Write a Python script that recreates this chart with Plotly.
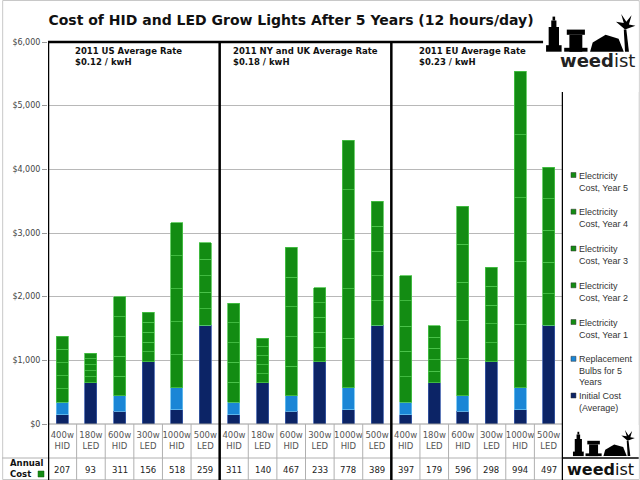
import plotly.graph_objects as go

# ---------------- data ----------------
regions = ["2011 US Average Rate", "2011 NY and UK Average Rate", "2011 EU Average Rate"]
rates = ["$0.12 / kwH", "$0.18 / kwH", "$0.23 / kwH"]
lamp_watts = ["400w", "180w", "600w", "300w", "1000w", "500w"]
lamp_types = ["HID", "LED", "HID", "LED", "HID", "LED"]
initial_cost = [145, 650, 200, 975, 220, 1550]
bulb_cost = [200, 0, 240, 0, 350, 0]
annual_us = [207, 93, 311, 156, 518, 259]
annual_ny = [311, 140, 467, 233, 778, 389]
annual_eu = [397, 179, 596, 298, 994, 497]
y_ticks = [0, 1000, 2000, 3000, 4000, 5000, 6000]
y_tick_text = ["$0", "$1,000", "$2,000", "$3,000", "$4,000", "$5,000", "$6,000"]

annual = annual_us + annual_ny + annual_eu
n = len(annual)
xs = list(range(n))
tick_text = [f"{w}<br>{t}" for _ in regions for w, t in zip(lamp_watts, lamp_types)]
init_all = initial_cost * 3
bulb_all = bulb_cost * 3

NAVY = "#0c2466"
BLUE = "#1a86d6"
GREEN = "#138c13"

# plot area in pixels
L, R, T, B = 46, 563, 42, 424
W, H = R - L, B - T
def px(x):
    return (x - L) / W
def py(y):
    return (B - y) / H

fig = go.Figure()
fig.add_bar(x=xs, y=init_all, name="Initial Cost (Average)", marker_color=NAVY,
            marker_line=dict(color="#3a5aa8", width=0.8))
fig.add_bar(x=xs, y=bulb_all, name="Replacement Bulbs for 5 Years", marker_color=BLUE,
            marker_line=dict(color="#6cc0f0", width=0.8))
for yr in range(1, 6):
    fig.add_bar(x=xs, y=annual, name=f"Electricity Cost, Year {yr}", marker_color=GREEN,
                marker_line=dict(color="#4cc44c", width=0.8))

fig.update_traces(width=0.42, showlegend=False)

shapes = []
annotations = []

# outer light border
shapes.append(dict(type="rect", xref="paper", yref="paper", x0=px(0.5), x1=px(639.5),
                   y0=py(0.5), y1=py(479.5), line=dict(color="#c8c8c8", width=1), layer="below"))

# x axis baseline and table line
shapes.append(dict(type="line", xref="paper", yref="paper", x0=0, x1=1, y0=0, y1=0,
                   line=dict(color="#9a9a9a", width=1)))
shapes.append(dict(type="line", xref="paper", yref="paper", x0=px(0), x1=1, y0=py(458), y1=py(458),
                   line=dict(color="#b0b0b0", width=1)))
# table separators (between categories)
for i in range(n + 1):
    xb = i - 0.5
    if i % 6 == 0:
        continue
    shapes.append(dict(type="line", xref="x", yref="paper", x0=xb, x1=xb, y0=py(424), y1=py(480),
                       line=dict(color="#b0b0b0", width=1)))
# thick region boxes
for i in range(0, n + 1, 6):
    xb = i - 0.5
    shapes.append(dict(type="line", xref="x", yref="paper", x0=xb, x1=xb, y0=1, y1=py(480),
                       line=dict(color="black", width=2.5)))
shapes.append(dict(type="line", xref="x", yref="paper", x0=-0.5, x1=n - 0.5, y0=1, y1=1,
                   line=dict(color="black", width=2.5)))

# region labels
label_shift = [25, 11, 26]
for k, (rg, rt) in enumerate(zip(regions, rates)):
    annotations.append(dict(xref="x", yref="paper", x=k * 6 - 0.5, xshift=label_shift[k],
                            y=py(44), xanchor="left", yanchor="top", align="left",
                            text=f"<b>{rg}<br>{rt}</b>", showarrow=False,
                            font=dict(family="DejaVu Sans", size=8.5, color="#111")))

# annual cost row
for i, v in enumerate(annual):
    annotations.append(dict(xref="x", yref="paper", x=i, y=py(470), text=str(v), showarrow=False,
                            xanchor="center", yanchor="middle",
                            font=dict(family="DejaVu Sans", size=8.5, color="#222")))
annotations.append(dict(xref="paper", yref="paper", x=px(6), y=py(468), xanchor="left", yanchor="middle",
                        align="left", text="<b>Annual<br>Cost</b>", showarrow=False,
                        font=dict(family="DejaVu Sans", size=8.5, color="#111")))
shapes.append(dict(type="rect", xref="paper", yref="paper", x0=px(36), x1=px(42), y0=py(477), y1=py(471),
                   fillcolor=GREEN, line=dict(color="#0a5a0a", width=0.5)))

# custom legend
legend_items = [("Electricity<br>Cost, Year 5", GREEN, 175),
                ("Electricity<br>Cost, Year 4", GREEN, 211.7),
                ("Electricity<br>Cost, Year 3", GREEN, 248.5),
                ("Electricity<br>Cost, Year 2", GREEN, 285.3),
                ("Electricity<br>Cost, Year 1", GREEN, 322),
                ("Replacement<br>Bulbs for 5<br>Years", BLUE, 358.8),
                ("Initial Cost<br>(Average)", NAVY, 395.5)]
for txt, col, yy in legend_items:
    shapes.append(dict(type="rect", xref="paper", yref="paper", x0=px(571), x1=px(576),
                       y0=py(yy + 2.5), y1=py(yy - 2.5), fillcolor=col, line=dict(color="#333", width=0.5)))
    annotations.append(dict(xref="paper", yref="paper", x=px(577), y=py(yy - 6.5), xanchor="left",
                            yanchor="top", align="left", text=txt, showarrow=False,
                            font=dict(family="Liberation Sans", size=9, color="#333")))

# logos (white boxes with wordmark)
shapes.append(dict(type="rect", xref="paper", yref="paper", x0=px(543), x1=px(639), y0=py(2), y1=py(92),
                   fillcolor="white", line=dict(width=0)))
shapes.append(dict(type="rect", xref="paper", yref="paper", x0=px(565), x1=px(639), y0=py(425), y1=py(479),
                   fillcolor="white", line=dict(width=0)))
shapes.append(dict(type="line", xref="paper", yref="paper", x0=px(563), x1=px(639), y0=py(458), y1=py(458),
                   line=dict(color="black", width=1.5)))

def silhouette(x0, y0, s):
    out = []
    def r(a, b, c, d):
        out.append(dict(type="rect", xref="paper", yref="paper", x0=px(x0 + a * s), x1=px(x0 + c * s),
                        y0=py(y0 + b * s), y1=py(y0 + d * s), fillcolor="black", line=dict(width=0)))
    # tower
    r(2, 10, 10, 28); r(4, 5, 8, 10); r(5, 2, 7, 5); r(0, 24, 12, 29)
    # block
    r(16, 12, 30, 16); r(18, 16, 28, 29); r(14, 26, 32, 29)
    # mound
    out.append(dict(type="path", xref="paper", yref="paper", fillcolor="black", line=dict(width=0),
                    path=f"M {px(x0+34*s)},{py(y0+29*s)} L {px(x0+36*s)},{py(y0+22*s)} "
                         f"L {px(x0+46*s)},{py(y0+16*s)} L {px(x0+56*s)},{py(y0+19*s)} "
                         f"L {px(x0+60*s)},{py(y0+29*s)} Z"))
    # palm
    out.append(dict(type="path", xref="paper", yref="paper", fillcolor="black", line=dict(width=0),
                    path=f"M {px(x0+61*s)},{py(y0+29*s)} L {px(x0+64*s)},{py(y0+29*s)} "
                         f"L {px(x0+62*s)},{py(y0+12*s)} L {px(x0+60*s)},{py(y0+12*s)} Z"))
    out.append(dict(type="path", xref="paper", yref="paper", fillcolor="black", line=dict(width=0),
                    path=f"M {px(x0+61*s)},{py(y0+12*s)} L {px(x0+54*s)},{py(y0+6*s)} "
                         f"L {px(x0+60*s)},{py(y0+7*s)} L {px(x0+58*s)},{py(y0+0*s)} "
                         f"L {px(x0+62*s)},{py(y0+6*s)} L {px(x0+66*s)},{py(y0+1*s)} "
                         f"L {px(x0+64*s)},{py(y0+8*s)} L {px(x0+69*s)},{py(y0+9*s)} Z"))
    return out

shapes += silhouette(546, 14, 1.3)
shapes += silhouette(573, 430, 0.9)

annotations.append(dict(xref="paper", yref="paper", x=px(598), y=py(60), text="<b>weed</b>ist", showarrow=False,
                        xanchor="center", yanchor="middle",
                        font=dict(family="DejaVu Sans", size=18, color="#222")))
annotations.append(dict(xref="paper", yref="paper", x=px(601), y=py(469), text="<b>weed</b>ist", showarrow=False,
                        xanchor="center", yanchor="middle",
                        font=dict(family="DejaVu Sans", size=16, color="#111")))

fig.update_layout(
    barmode="stack",
    width=640, height=480,
    margin=dict(l=L, r=640 - R, t=T, b=480 - B),
    paper_bgcolor="white", plot_bgcolor="white",
    title=dict(text="<b>Cost of HID and LED Grow Lights After 5 Years (12 hours/day)</b>",
               xref="container", x=291 / 640, xanchor="center", y=1 - 20 / 480, yanchor="middle",
               font=dict(family="DejaVu Sans", size=14, color="#111")),
    xaxis=dict(range=[-0.5, n - 0.5], tickmode="array", tickvals=xs, ticktext=tick_text,
               showgrid=False, zeroline=False, showline=False, ticks="", ticklabelstandoff=4,
               tickfont=dict(family="DejaVu Sans", size=8.5, color="#555")),
    yaxis=dict(range=[0, 6000], tickmode="array", tickvals=y_ticks, ticktext=y_tick_text,
               showgrid=True, gridcolor="#b8b8b8", gridwidth=1, zeroline=False, showline=False,
               ticks="outside", ticklen=5, tickcolor="#999",
               tickfont=dict(family="DejaVu Sans", size=8, color="#444")),
    shapes=shapes, annotations=annotations, showlegend=False,
)

fig.write_html("out.html", config={"displayModeBar": False},
               post_script="document.body.style.margin='0';document.body.style.overflow='hidden';")
